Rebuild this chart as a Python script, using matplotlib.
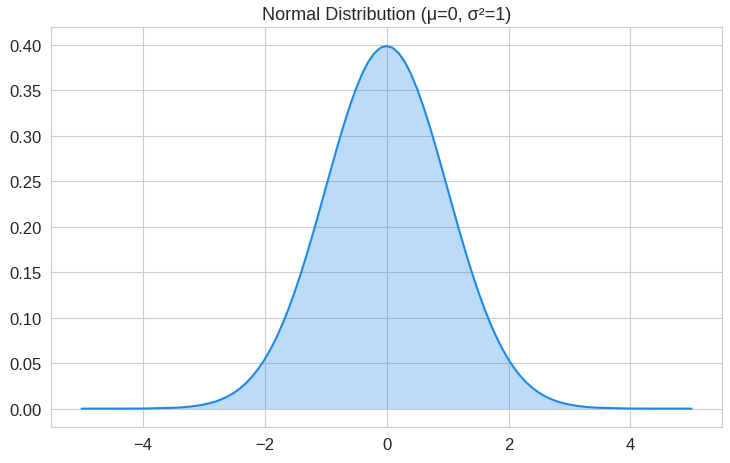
import matplotlib
matplotlib.use("Agg")
import matplotlib.pyplot as plt
import seaborn as sns

# curve values (x, density)
x_vals = [-5.0, -4.5, -4.0,
          -3.5, -3.4, -3.3, -3.2, -3.1, -3.0, -2.9, -2.8, -2.7, -2.6,
          -2.5, -2.4, -2.3, -2.2, -2.1, -2.0, -1.9, -1.8, -1.7, -1.6,
          -1.5, -1.4, -1.3, -1.2, -1.1, -1.0, -0.9, -0.8, -0.7, -0.6,
          -0.5, -0.4, -0.3, -0.2, -0.1, 0.0, 0.1, 0.2, 0.3, 0.4,
          0.5, 0.6, 0.7, 0.8, 0.9, 1.0, 1.1, 1.2, 1.3, 1.4,
          1.5, 1.6, 1.7, 1.8, 1.9, 2.0, 2.1, 2.2, 2.3, 2.4,
          2.5, 2.6, 2.7, 2.8, 2.9, 3.0, 3.1, 3.2, 3.3, 3.4,
          3.5, 4.0, 4.5, 5.0]
density = [0.0000, 0.0000, 0.0001,
           0.0009, 0.0012, 0.0017, 0.0024, 0.0033, 0.0044, 0.0060, 0.0079, 0.0104, 0.0136,
           0.0175, 0.0224, 0.0283, 0.0355, 0.0440, 0.0540, 0.0656, 0.0790, 0.0940, 0.1109,
           0.1295, 0.1497, 0.1714, 0.1942, 0.2179, 0.2420, 0.2661, 0.2897, 0.3123, 0.3332,
           0.3521, 0.3683, 0.3814, 0.3910, 0.3970, 0.3989, 0.3970, 0.3910, 0.3814, 0.3683,
           0.3521, 0.3332, 0.3123, 0.2897, 0.2661, 0.2420, 0.2179, 0.1942, 0.1714, 0.1497,
           0.1295, 0.1109, 0.0940, 0.0790, 0.0656, 0.0540, 0.0440, 0.0355, 0.0283, 0.0224,
           0.0175, 0.0136, 0.0104, 0.0079, 0.0060, 0.0044, 0.0033, 0.0024, 0.0017, 0.0012,
           0.0009, 0.0001, 0.0000, 0.0000]
title = "Normal Distribution (\u03bc=0, \u03c3\u00b2=1)"

sns.set_style("whitegrid")
plt.rcParams["font.family"] = ["Liberation Sans", "DejaVu Sans"]

fig, ax = plt.subplots(figsize=(7.3, 4.64), dpi=100)
fig.subplots_adjust(left=0.07, right=0.989, top=0.94, bottom=0.078)

ax.plot(x_vals, density, color="#1E88E5", linewidth=1.5)
ax.fill_between(x_vals, density, color="#1E88E5", alpha=0.3, linewidth=0)

ax.set_title(title, fontsize=13)
ax.set_xticks([-4, -2, 0, 2, 4])
ax.set_xticklabels(["\u22124", "\u22122", "0", "2", "4"])
ax.set_yticks([0.0, 0.05, 0.1, 0.15, 0.2, 0.25, 0.3, 0.35, 0.4])
ax.yaxis.set_major_formatter(plt.FormatStrFormatter("%.2f"))
ax.tick_params(labelsize=12)
ax.set_xlim(-5.5, 5.5)
ax.set_ylim(-0.02, 0.42)
for s in ax.spines.values():
    s.set_color("#cccccc")

fig.savefig("out.png", dpi=100)
